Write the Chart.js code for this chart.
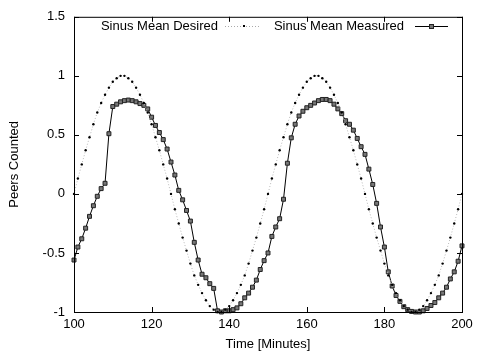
<!DOCTYPE html>
<html>
<head>
<meta charset="utf-8">
<script src="https://cdn.jsdelivr.net/npm/chart.js@4.4.0/dist/chart.umd.min.js"></script>
<style>
  html, body { margin: 0; padding: 0; background: #fff; }
  #wrap { width: 479px; height: 354px; }
</style>
</head>
<body>
<div id="wrap"><canvas id="sinus"></canvas></div>
<script>
// minutes 100..200
const minutes = [
  100,101,102,103,104,105,106,107,108,109,110,111,112,113,114,115,116,117,118,119,
  120,121,122,123,124,125,126,127,128,129,130,131,132,133,134,135,136,137,138,139,
  140,141,142,143,144,145,146,147,148,149,150,151,152,153,154,155,156,157,158,159,
  160,161,162,163,164,165,166,167,168,169,170,171,172,173,174,175,176,177,178,179,
  180,181,182,183,184,185,186,187,188,189,190,191,192,193,194,195,196,197,198,199,
  200
];
const desired = [
  0,0.13,0.25,0.37,0.48,0.59,0.69,0.77,0.84,0.9,0.95,0.98,1,1,0.98,0.95,0.9,0.84,0.77,0.69,
  0.59,0.48,0.37,0.25,0.13,0,-0.13,-0.25,-0.37,-0.48,-0.59,-0.69,-0.77,-0.84,-0.9,-0.95,-0.98,-1,-1,-0.98,
  -0.95,-0.9,-0.84,-0.77,-0.69,-0.59,-0.48,-0.37,-0.25,-0.13,0,0.13,0.25,0.37,0.48,0.59,0.69,0.77,0.84,0.9,
  0.95,0.98,1,1,0.98,0.95,0.9,0.84,0.77,0.69,0.59,0.48,0.37,0.25,0.13,0,-0.13,-0.25,-0.37,-0.48,
  -0.59,-0.69,-0.77,-0.84,-0.9,-0.95,-0.98,-1,-1,-0.98,-0.95,-0.9,-0.84,-0.77,-0.69,-0.59,-0.48,-0.37,-0.25,-0.13,
  0
];
const measured = [
  -0.56,-0.45,-0.38,-0.29,-0.19,-0.1,-0.02,0.045,0.09,0.51,
  0.74,0.76,0.78,0.79,0.795,0.79,0.78,0.765,0.75,0.72,
  0.65,0.58,0.52,0.46,0.38,0.27,0.16,0.03,-0.05,-0.14,
  -0.23,-0.41,-0.56,-0.68,-0.71,-0.76,-0.8,-0.99,-1,-0.99,
  -0.99,-0.98,-0.965,-0.93,-0.88,-0.84,-0.79,-0.73,-0.64,-0.565,
  -0.5,-0.36,-0.28,-0.21,-0.045,0.26,0.475,0.59,0.66,0.7,
  0.73,0.75,0.77,0.79,0.8,0.8,0.79,0.76,0.72,0.68,
  0.62,0.59,0.54,0.47,0.4,0.335,0.21,0.08,-0.08,-0.28,
  -0.45,-0.66,-0.78,-0.86,-0.91,-0.955,-0.98,-0.995,-1,-1,
  -0.99,-0.97,-0.945,-0.92,-0.88,-0.84,-0.79,-0.72,-0.66,-0.57,
  -0.44
];
const seriesNames = ['Sinus Mean Desired', 'Sinus Mean Measured'];
const xTicks = [100, 120, 140, 160, 180, 200];
const yTicks = [-1, -0.5, 0, 0.5, 1, 1.5];

const FONT = 'Liberation Sans, Arial, Helvetica, sans-serif';
Chart.defaults.font.family = FONT;
Chart.defaults.font.size = 13;
Chart.defaults.color = '#000';

// gnuplot-like frame, inward ticks on all four sides, and key
const gnuplotFrame = {
  id: 'gnuplotFrame',
  afterDraw(chart) {
    const ctx = chart.ctx;
    const a = chart.chartArea;
    const xs = chart.scales.x, ys = chart.scales.y;
    ctx.save();
    ctx.strokeStyle = '#000';
    ctx.lineWidth = 1;
    ctx.strokeRect(a.left + 0.5, a.top + 0.5, a.right - a.left, a.bottom - a.top);
    ctx.beginPath();
    xTicks.forEach(v => {
      const px = Math.round(xs.getPixelForValue(v)) + 0.5;
      ctx.moveTo(px, a.bottom); ctx.lineTo(px, a.bottom - 5);
      ctx.moveTo(px, a.top); ctx.lineTo(px, a.top + 5);
    });
    yTicks.forEach(v => {
      const py = Math.round(ys.getPixelForValue(v)) + 0.5;
      ctx.moveTo(a.left, py); ctx.lineTo(a.left + 5, py);
      ctx.moveTo(a.right, py); ctx.lineTo(a.right - 5, py);
    });
    ctx.stroke();

    // key
    const ky = 26;
    ctx.font = '13px ' + FONT;
    ctx.fillStyle = '#000';
    ctx.textBaseline = 'middle';
    ctx.textAlign = 'right';
    ctx.fillText(seriesNames[0], 218, ky);
    ctx.fillText(seriesNames[1], 404, ky);

    ctx.strokeStyle = '#aaa';
    ctx.setLineDash([1, 2]);
    ctx.beginPath();
    ctx.moveTo(225, ky + 0.5); ctx.lineTo(261, ky + 0.5);
    ctx.stroke();
    ctx.setLineDash([]);
    ctx.fillStyle = '#000';
    ctx.fillRect(243, ky - 1, 2, 2);

    ctx.strokeStyle = '#000';
    ctx.beginPath();
    ctx.moveTo(415, ky + 0.5); ctx.lineTo(448, ky + 0.5);
    ctx.stroke();
    ctx.fillStyle = '#777';
    ctx.fillRect(429, ky - 1, 4, 4);
    ctx.strokeStyle = '#222';
    ctx.strokeRect(429.5, ky - 1.5, 4, 4);
    ctx.restore();
  }
};

new Chart(document.getElementById('sinus'), {
  type: 'line',
  data: {
    datasets: [{
      label: seriesNames[0],
      data: minutes.map((m, i) => ({ x: m, y: desired[i] })),
      borderColor: '#b8b8b8',
      borderWidth: 1,
      borderDash: [1, 2],
      pointStyle: 'circle',
      pointRadius: 1.2,
      pointBackgroundColor: '#000',
      pointBorderColor: '#000',
      pointBorderWidth: 0,
      tension: 0,
      clip: 6
    }, {
      label: seriesNames[1],
      data: minutes.map((m, i) => ({ x: m, y: measured[i] })),
      borderColor: '#000',
      borderWidth: 1,
      pointStyle: 'rect',
      pointRadius: 2.8,
      pointBackgroundColor: '#777',
      pointBorderColor: '#222',
      pointBorderWidth: 1,
      tension: 0,
      clip: 6
    }]
  },
  options: {
    responsive: true,
    maintainAspectRatio: false,
    animation: false,
    layout: { padding: { left: 0, right: 17, top: 15, bottom: 0 } },
    plugins: {
      legend: { display: false },
      tooltip: { enabled: false }
    },
    scales: {
      x: {
        type: 'linear',
        min: 100,
        max: 200,
        afterFit: s => { s.height = 42; },
        afterBuildTicks: s => { s.ticks = xTicks.map(v => ({ value: v })); },
        grid: { display: false, drawTicks: false },
        border: { display: false },
        ticks: { padding: 5, maxRotation: 0, callback: v => String(v) },
        title: { display: true, text: 'Time [Minutes]', padding: { top: 0, bottom: 2 } }
      },
      y: {
        min: -1,
        max: 1.5,
        afterFit: s => { s.width = 74; },
        afterBuildTicks: s => { s.ticks = yTicks.map(v => ({ value: v })); },
        grid: { display: false, drawTicks: false },
        border: { display: false },
        ticks: { padding: 9, callback: v => String(v) },
        title: { display: true, text: 'Peers Counted', padding: { top: 7, bottom: 0 } }
      }
    }
  },
  plugins: [gnuplotFrame]
});
</script>
</body>
</html>
